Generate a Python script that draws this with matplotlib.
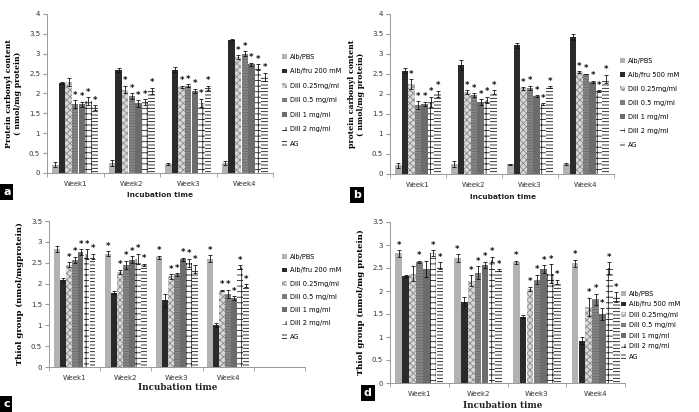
import matplotlib
matplotlib.use("Agg")
import matplotlib.pyplot as plt
import numpy as np
from matplotlib.ticker import FuncFormatter, FixedLocator
from matplotlib.patches import Patch

weeks = ["Week1", "Week2", "Week3", "Week4"]
series_a = ["Alb/PBS", "Alb/fru 200 mM", "Dill 0.25mg/ml", "Dill 0.5 mg/ml", "Dill 1 mg/ml", "Dill 2 mg/ml", "AG"]
series_b = ["Alb/PBS", "Alb/fru 500 mM", "Dill 0.25mg/ml", "Dill 0.5 mg/ml", "Dill 1 mg/ml", "Dill 2 mg/ml", "AG"]
series_c = ["Alb/PBS", "Alb/fru 200 mM", "Dill 0.25mg/ml", "Dill 0.5 mg/ml", "Dill 1 mg/ml", "Dill 2 mg/ml", "AG"]
series_d = ["Alb/PBS", "Alb/fru 500 mM", "Dill 0.25mg/ml", "Dill 0.5 mg/ml", "Dill 1 mg/ml", "Dill 2 mg/ml", "AG"]

# values[week][series]
vals_a = [[0.21, 2.27, 2.28, 1.73, 1.73, 1.80, 1.65],
          [0.25, 2.60, 2.10, 1.93, 1.75, 1.78, 2.07],
          [0.23, 2.60, 2.17, 2.20, 2.06, 1.77, 2.14],
          [0.25, 3.35, 2.92, 3.00, 2.73, 2.67, 2.42]]
err_a = [[0.06, 0.03, 0.10, 0.10, 0.06, 0.10, 0.06],
         [0.07, 0.05, 0.10, 0.07, 0.08, 0.08, 0.07],
         [0.02, 0.06, 0.02, 0.03, 0.06, 0.10, 0.05],
         [0.04, 0.01, 0.04, 0.06, 0.04, 0.07, 0.10]]
star_a = [[0, 0, 0, 1, 1, 1, 1],
          [0, 0, 1, 1, 1, 1, 1],
          [0, 0, 1, 1, 1, 1, 1],
          [0, 0, 1, 1, 1, 1, 1]]

vals_b = [[0.22, 2.58, 2.25, 1.72, 1.75, 1.80, 2.00],
          [0.25, 2.72, 2.05, 1.97, 1.80, 1.85, 2.05],
          [0.24, 3.22, 2.14, 2.15, 1.95, 1.75, 2.17],
          [0.25, 3.42, 2.55, 2.50, 2.30, 2.07, 2.38]]
err_b = [[0.06, 0.06, 0.12, 0.10, 0.06, 0.13, 0.08],
         [0.08, 0.12, 0.05, 0.05, 0.07, 0.08, 0.04],
         [0.01, 0.06, 0.03, 0.06, 0.02, 0.02, 0.02],
         [0.02, 0.08, 0.02, 0.01, 0.03, 0.03, 0.10]]
star_b = [[0, 0, 1, 1, 1, 1, 1],
          [0, 0, 1, 1, 1, 1, 1],
          [0, 0, 1, 1, 1, 1, 1],
          [0, 0, 1, 1, 1, 1, 1]]

vals_c = [[2.82, 2.08, 2.45, 2.57, 2.75, 2.70, 2.65],
          [2.72, 1.78, 2.28, 2.45, 2.57, 2.60, 2.45],
          [2.63, 1.60, 2.17, 2.22, 2.58, 2.50, 2.35],
          [2.60, 1.00, 1.83, 1.75, 1.65, 2.40, 1.95]]
err_c = [[0.07, 0.05, 0.06, 0.07, 0.07, 0.12, 0.07],
         [0.06, 0.04, 0.05, 0.10, 0.08, 0.12, 0.03],
         [0.04, 0.15, 0.05, 0.03, 0.04, 0.10, 0.10],
         [0.08, 0.05, 0.02, 0.10, 0.05, 0.04, 0.04]]
star_c = [[0, 0, 1, 1, 1, 1, 1],
          [1, 0, 1, 1, 1, 1, 1],
          [1, 0, 1, 1, 1, 1, 1],
          [1, 0, 1, 1, 1, 1, 1]]

vals_d = [[2.82, 2.32, 2.38, 2.63, 2.48, 2.83, 2.55],
          [2.72, 1.77, 2.22, 2.40, 2.57, 2.68, 2.45],
          [2.62, 1.44, 2.05, 2.25, 2.48, 2.38, 2.20],
          [2.60, 0.92, 1.65, 1.82, 1.50, 2.50, 1.87]]
err_d = [[0.07, 0.02, 0.17, 0.03, 0.18, 0.06, 0.07],
         [0.08, 0.10, 0.12, 0.14, 0.07, 0.06, 0.02],
         [0.04, 0.03, 0.04, 0.10, 0.08, 0.20, 0.05],
         [0.08, 0.08, 0.20, 0.12, 0.13, 0.12, 0.10]]
star_d = [[1, 0, 0, 1, 0, 1, 1],
          [1, 0, 1, 1, 1, 1, 1],
          [1, 0, 1, 1, 1, 1, 1],
          [1, 0, 1, 1, 1, 1, 1]]

styles = [
    dict(facecolor="#b2b2b2", edgecolor="#b2b2b2", hatch=None),
    dict(facecolor="#2a2a2a", edgecolor="#2a2a2a", hatch=None),
    dict(facecolor="#d8d8d8", edgecolor="#8a8a8a", hatch="xxxxx"),
    dict(facecolor="#858585", edgecolor="#6a6a6a", hatch="------"),
    dict(facecolor="#6c6c6c", edgecolor="#6c6c6c", hatch=None),
    dict(facecolor="white", edgecolor="#222222", hatch="+++"),
    dict(facecolor="white", edgecolor="#111111", hatch="-----"),
]

W, H = 699, 412
fig = plt.figure(figsize=(W / 100, H / 100), dpi=100)
plt.rcParams["hatch.linewidth"] = 0.6

def box(x0, y0, x1, y1):
    return [x0 / W, 1 - y1 / H, (x1 - x0) / W, (y1 - y0) / H]

def panel(rect, vals, errs, stars, labels, ymax, ystep, ncat, ylabel, ylfs, xlabel_font, xl_xy,
          leg_xy, leg_h, letter_xy):
    ax = fig.add_axes(box(*rect))
    vals = np.array(vals); errs = np.array(errs)
    nser = vals.shape[1]
    bw = 0.117
    x = np.arange(len(weeks))
    handles = []
    for s in range(nser):
        st = styles[s]
        pos = x + (s - (nser - 1) / 2) * bw
        ax.bar(pos, vals[:, s], width=bw * 0.97, facecolor=st["facecolor"],
               edgecolor=st["edgecolor"], hatch=st["hatch"], linewidth=0)
        ax.errorbar(pos, vals[:, s], yerr=errs[:, s], fmt="none", ecolor="#111111",
                    elinewidth=0.6, capsize=1.5, capthick=0.6)
        for w in range(len(weeks)):
            if stars[w][s]:
                ax.text(pos[w], vals[w, s] + errs[w, s] + ymax * 0.003, "*", ha="center",
                        va="bottom", fontsize=6, fontweight="bold", color="#111111")
        handles.append(Patch(facecolor=st["facecolor"], edgecolor=st["edgecolor"],
                             hatch=st["hatch"], linewidth=0, label=labels[s]))
    ax.set_xlim(-0.5, ncat - 0.5)
    ax.set_ylim(0, ymax)
    ax.yaxis.set_major_locator(FixedLocator(np.arange(0, ymax + 1e-9, ystep)))
    ax.yaxis.set_major_formatter(FuncFormatter(lambda v, p: "%g" % v))
    ax.set_xticks(x)
    ax.set_xticklabels(weeks)
    ax.set_xticks(np.arange(ncat + 1) - 0.5, minor=True)
    ax.tick_params(axis="x", which="major", length=0, labelsize=5, pad=6, colors="#333333")
    ax.tick_params(axis="x", which="minor", length=3, color="#999999", direction="out")
    ax.tick_params(axis="y", length=3, labelsize=5, color="#999999", labelcolor="#333333", pad=2)
    for sp in ["top", "right"]:
        ax.spines[sp].set_visible(False)
    for sp in ["left", "bottom"]:
        ax.spines[sp].set_color("#999999")
        ax.spines[sp].set_linewidth(0.7)
    ax.set_ylabel(ylabel, fontsize=ylfs, fontweight="bold", family="serif", labelpad=5,
                  linespacing=1.1)
    fig.text(xl_xy[0] / W, 1 - xl_xy[1] / H, "Incubation time", ha="center", va="center",
             fontsize=5.3 if xlabel_font == "sans-serif" else 6.3, fontweight="bold",
             family=xlabel_font, color="#222222")
    fig.legend(handles=handles, loc="upper left",
               bbox_to_anchor=(leg_xy[0] / W, 1 - leg_xy[1] / H), frameon=False,
               fontsize=4.8, handlelength=0.7, handleheight=0.7, handletextpad=0.5,
               labelspacing=leg_h, borderaxespad=0, borderpad=0)
    fig.text(letter_xy[0] / W, 1 - letter_xy[1] / H, letter_xy[2], ha="left", va="center",
             fontsize=8, fontweight="bold", color="white",
             bbox=dict(facecolor="black", edgecolor="none", boxstyle="square,pad=0.25"))
    return ax

panel((47, 14, 273, 173), vals_a, err_a, star_a, series_a, 4, 0.5, 4,
      "Protein carbonyl content\n( nmol/mg protein)", 5.6, "sans-serif", (160, 195),
      (282, 54), 1.27, (3, 192, "a"))
panel((390, 14, 614, 174), vals_b, err_b, star_b, series_b, 4, 0.5, 4,
      "protein carbonyl content\n( nmol/mg protein)", 5.6, "sans-serif", (503, 197),
      (620, 58), 1.2, (353, 195, "b"))
panel((49, 221, 305, 367), vals_c, err_c, star_c, series_c, 3.5, 0.5, 5,
      "Thiol group (nmol/mgprotein)", 6.0, "serif", (178, 388),
      (282, 254), 1.09, (3, 404, "c"))
panel((390, 222, 625, 383), vals_d, err_d, star_d, series_d, 3.5, 0.5, 4,
      "Thiol group (nmol/mg protein)", 6.0, "serif", (503, 405),
      (621, 291), 0.67, (364, 393, "d"))

fig.savefig("out.png", dpi=100)
